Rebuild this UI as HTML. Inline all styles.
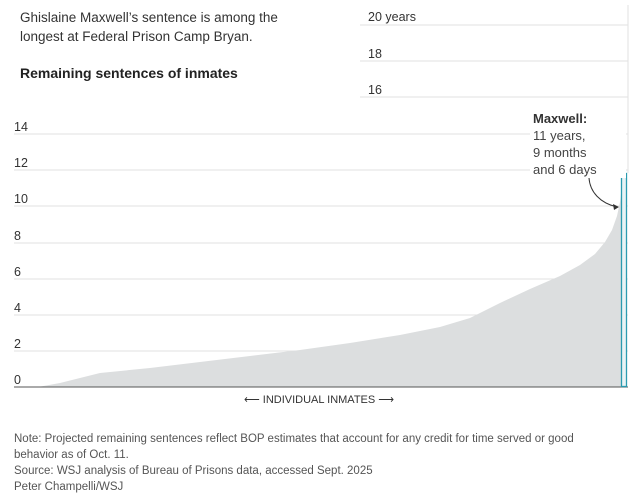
<!DOCTYPE html>
<html><head><meta charset="utf-8"><style>
body{margin:0;background:#fff;width:638px;height:503px;overflow:hidden;font-family:"Liberation Sans",sans-serif;color:#333}
</style></head><body>
<svg width="638" height="503" xmlns="http://www.w3.org/2000/svg" style="position:absolute;left:0;top:0">
<g stroke="#e2e2e2" stroke-width="1">
<line x1="360" y1="25" x2="628" y2="25"/>
<line x1="360" y1="61" x2="628" y2="61"/>
<line x1="360" y1="97" x2="628" y2="97"/>
<line x1="14" y1="134" x2="628" y2="134"/>
<line x1="14" y1="170" x2="628" y2="170"/>
<line x1="14" y1="206" x2="628" y2="206"/>
<line x1="14" y1="243" x2="628" y2="243"/>
<line x1="14" y1="279" x2="628" y2="279"/>
<line x1="14" y1="315" x2="628" y2="315"/>
<line x1="14" y1="351" x2="628" y2="351"/>
<line x1="628" y1="5" x2="628" y2="173"/>
</g>
<path d="M38,387 L60,383 L100,373 L150,368 L200,362 L250,356 L300,350 L350,343 L400,335 L440,327 L470,318 L500,303 L530,289 L560,276 L580,265 L595,254 L605,242 L612,230 L617,216 L620,202 L622,185 L622,387 Z" fill="#dcdedf"/>
<line x1="14" y1="387" x2="628" y2="387" stroke="#555" stroke-width="1"/>
<rect x="621.5" y="173.5" width="5" height="213" fill="#e8f3f5" stroke="#2a9bb0" stroke-width="1.3"/>
<path d="M589,178 C590,192 600,203 617,207" fill="none" stroke="#333" stroke-width="1"/>
<path d="M619,207 L613,204 L614,210 Z" fill="#333"/>
<g font-size="12.5" fill="#333">
<text x="368" y="21">20 years</text>
<text x="368" y="58">18</text>
<text x="368" y="94">16</text>
<text x="14" y="131">14</text>
<text x="14" y="167">12</text>
<text x="14" y="203">10</text>
<text x="14" y="240">8</text>
<text x="14" y="276">6</text>
<text x="14" y="312">4</text>
<text x="14" y="348">2</text>
<text x="14" y="384">0</text>
</g>
<rect x="530" y="110" width="96" height="68" fill="#fff"/>
<text x="533" y="123" font-size="13" font-weight="bold" fill="#333">Maxwell:</text>
<g font-size="13" fill="#444">
<text x="533" y="140">11 years,</text>
<text x="533" y="157">9 months</text>
<text x="533" y="174">and 6 days</text>
</g>
<text x="20" y="22" font-size="13.5" fill="#333">Ghislaine Maxwell’s sentence is among the</text>
<text x="20" y="41" font-size="13.5" fill="#333">longest at Federal Prison Camp Bryan.</text>
<text x="20" y="78" font-size="14" font-weight="bold" fill="#222">Remaining sentences of inmates</text>
<text x="319" y="403" font-size="11" fill="#333" text-anchor="middle">⟵  INDIVIDUAL INMATES  ⟶</text>
<g font-size="11.5" fill="#555">
<text x="14" y="442">Note: Projected remaining sentences reflect BOP estimates that account for any credit for time served or good</text>
<text x="14" y="458">behavior as of Oct. 11.</text>
<text x="14" y="474">Source: WSJ analysis of Bureau of Prisons data, accessed Sept. 2025</text>
<text x="14" y="490">Peter Champelli/WSJ</text>
</g>
</svg>
</body></html>
